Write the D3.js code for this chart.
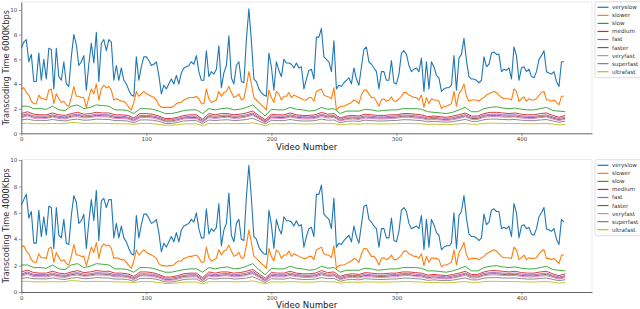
<!DOCTYPE html>
<html><head><meta charset="utf-8">
<script src="https://cdn.jsdelivr.net/npm/d3@7"></script>
<style>html,body{margin:0;padding:0;background:#fff;}svg{display:block;font-family:"DejaVu Sans",sans-serif;}</style>
</head><body><svg id="c" width="640" height="309"></svg>
<script>
const seriesNames=["veryslow","slower","slow","medium","fast","faster","veryfast","superfast","ultrafast"];
const seriesColors=["#1f77b4","#ff7f0e","#2ca02c","#d62728","#9467bd","#8c564b","#e377c2","#7f7f7f","#bcbd22"];
const xTicks=[0,100,200,300,400];
const yTicks=[0,2,4,6,8,10];
const STEP_MAIN=2, STEP_LOW=5; // video-number spacing of the samples

// ---- 6000 Kbps ----
const veryslow6000=[6.9,7.4,7.6,5.8,6.4,4.2,4.2,6.5,4.3,6.0,4.4,6.9,6.8,3.6,6.9,4.6,4.3,5.8,4.0,3.8,
6.2,8.0,7.2,5.5,5.8,6.3,3.5,5.6,7.3,5.7,8.2,4.2,7.3,7.6,6.7,7.6,7.4,4.3,5.5,4.3,
5.3,4.3,4.0,3.5,3.1,3.0,6.2,4.3,5.4,6.2,6.2,5.9,5.5,5.6,5.8,4.7,3.2,3.9,3.6,4.0,
4.4,4.0,4.7,4.0,4.9,5.3,5.4,5.5,5.8,5.6,6.3,5.0,4.3,4.3,6.7,4.6,5.0,4.8,5.2,7.1,
3.7,4.9,5.5,7.9,4.5,4.0,5.5,5.8,4.2,4.1,7.6,10.1,7.5,4.4,4.2,3.6,3.3,3.1,3.0,6.5,
5.4,3.5,5.8,5.1,4.6,6.0,5.7,5.7,5.6,5.3,5.7,5.3,5.4,3.6,4.4,5.1,5.2,4.4,7.8,7.8,
8.5,6.2,6.0,5.8,5.0,7.5,3.6,3.9,3.8,4.1,4.3,4.5,4.0,5.3,4.4,3.9,5.4,6.8,7.0,5.8,
5.6,5.3,5.0,3.6,5.0,5.0,4.3,4.3,5.9,4.1,4.0,4.8,6.5,6.7,6.4,5.5,5.0,5.2,5.3,5.0,
6.1,3.4,5.8,3.6,5.8,5.4,4.7,4.5,3.4,3.6,3.7,3.7,3.9,6.3,3.5,6.1,6.4,7.7,5.9,4.6,
4.4,4.4,4.3,4.1,4.3,6.2,5.4,5.6,6.5,6.6,6.4,6.4,5.0,5.2,5.1,5.3,4.4,7.0,6.3,4.3,
5.3,5.4,5.0,5.2,4.6,4.5,5.0,6.0,6.3,6.7,5.0,4.9,4.8,5.0,4.2,3.8,5.8,5.8];
const slower6000=[3.6,3.7,3.3,3.1,2.6,2.4,2.4,3.1,2.8,2.8,2.7,3.5,3.6,2.4,3.2,2.8,2.5,2.6,2.3,2.2,
2.9,3.8,3.0,3.0,2.9,2.9,2.1,2.9,3.6,3.2,4.0,2.7,3.6,3.9,3.7,3.8,3.5,2.7,2.8,2.7,
2.6,2.6,2.4,2.1,1.9,2.5,3.4,3.0,3.2,3.4,3.2,3.1,3.0,2.9,2.7,2.3,2.1,2.1,2.1,2.1,
2.1,2.2,2.4,2.5,2.5,2.7,2.8,2.9,2.9,2.9,3.0,2.8,2.4,2.4,3.6,2.8,2.5,2.6,2.7,3.4,
3.0,3.3,3.4,3.8,3.3,2.9,3.0,3.2,2.7,2.8,3.8,5.0,4.0,2.9,2.7,2.5,2.3,2.1,1.9,3.5,
2.9,2.5,3.4,3.2,2.7,3.0,3.0,3.3,2.9,3.1,3.0,2.9,2.8,2.7,2.7,2.9,2.9,2.6,3.4,3.5,
3.6,3.1,3.0,2.95,2.8,3.7,1.9,2.1,2.2,2.2,2.3,2.4,2.5,2.7,2.6,2.4,3.1,3.5,3.5,3.2,
2.9,2.9,2.6,2.2,2.7,2.8,2.6,2.7,2.95,2.6,2.6,2.8,3.0,3.3,3.3,3.1,3.0,2.9,2.9,2.7,
3.1,2.1,2.9,2.4,2.8,2.7,2.7,2.6,2.0,2.2,2.2,2.3,2.4,3.4,2.2,3.2,3.5,4.0,3.0,2.6,
2.7,2.7,2.7,2.6,2.8,2.9,3.1,3.2,3.3,3.4,3.3,3.1,2.9,2.8,2.8,2.8,2.7,3.6,3.4,2.6,
2.8,2.95,2.6,2.8,2.7,2.7,2.8,3.1,3.3,3.4,2.7,2.7,2.6,2.7,2.5,2.3,3.0,3.0];
const slow6000=[2.2,2.2,2.0,2.0,1.95,2.2,1.9,1.85,2.2,2.3,
2.0,2.1,2.3,2.25,2.2,1.9,1.9,1.85,1.6,2.0,
2.0,1.95,1.8,1.6,1.6,1.7,1.85,1.9,1.9,1.6,
2.0,1.9,2.0,2.05,1.9,1.95,2.1,2.3,1.85,1.4,
1.95,1.9,1.9,2.1,1.95,1.9,1.8,1.85,2.1,1.95,
2.0,1.6,1.8,1.8,1.8,1.95,1.9,1.8,1.85,1.9,
1.9,2.0,2.0,2.0,1.95,1.75,1.7,1.65,1.6,1.7,
1.9,2.1,1.75,1.75,2.0,2.1,2.15,2.05,2.0,2.05,
1.95,1.9,1.9,2.0,2.1,1.85,1.8,1.75];
const medium6000=[1.6,1.75,1.55,1.5,1.5,1.65,1.5,1.45,1.6,1.7,
1.55,1.6,1.7,1.65,1.65,1.5,1.5,1.45,1.25,1.6,
1.6,1.55,1.4,1.2,1.2,1.3,1.45,1.5,1.5,1.15,
1.6,1.5,1.6,1.6,1.5,1.55,1.65,1.8,1.45,1.1,
1.55,1.5,1.5,1.65,1.5,1.45,1.45,1.5,1.7,1.55,
1.6,1.25,1.4,1.45,1.4,1.55,1.5,1.45,1.45,1.5,
1.5,1.6,1.6,1.55,1.5,1.35,1.4,1.35,1.3,1.4,
1.5,1.65,1.4,1.4,1.6,1.7,1.7,1.65,1.6,1.65,
1.55,1.5,1.5,1.6,1.65,1.45,1.3,1.45];
const fast6000=[1.45,1.6,1.4,1.4,1.38,1.5,1.38,1.33,1.48,1.55,
1.42,1.45,1.55,1.52,1.5,1.38,1.38,1.33,1.15,1.45,
1.45,1.42,1.3,1.1,1.1,1.2,1.33,1.38,1.38,1.05,
1.45,1.38,1.45,1.48,1.38,1.42,1.5,1.65,1.33,1.0,
1.42,1.38,1.38,1.5,1.4,1.35,1.33,1.38,1.55,1.42,
1.45,1.15,1.3,1.33,1.3,1.42,1.38,1.33,1.33,1.38,
1.4,1.48,1.48,1.42,1.38,1.25,1.3,1.25,1.2,1.28,
1.38,1.52,1.3,1.3,1.48,1.55,1.55,1.5,1.48,1.5,
1.42,1.38,1.38,1.45,1.5,1.33,1.2,1.32];
const faster6000=[1.35,1.5,1.3,1.3,1.28,1.4,1.28,1.24,1.38,1.45,
1.32,1.36,1.45,1.42,1.4,1.28,1.28,1.24,1.05,1.35,
1.36,1.32,1.2,1.0,1.0,1.1,1.24,1.28,1.28,0.95,
1.35,1.28,1.35,1.38,1.28,1.32,1.4,1.55,1.24,0.92,
1.32,1.28,1.28,1.4,1.3,1.25,1.24,1.28,1.45,1.32,
1.36,1.05,1.2,1.24,1.2,1.32,1.28,1.24,1.24,1.28,
1.3,1.38,1.38,1.32,1.28,1.15,1.2,1.15,1.1,1.18,
1.28,1.42,1.2,1.2,1.38,1.45,1.45,1.4,1.38,1.4,
1.32,1.28,1.28,1.35,1.4,1.24,1.1,1.22];
const veryfast6000=[1.25,1.4,1.22,1.22,1.2,1.32,1.2,1.16,1.3,1.36,
1.24,1.28,1.36,1.34,1.32,1.2,1.2,1.16,0.98,1.27,
1.28,1.24,1.12,0.93,0.93,1.02,1.16,1.2,1.2,0.88,
1.27,1.2,1.27,1.3,1.2,1.24,1.32,1.46,1.16,0.86,
1.24,1.2,1.2,1.32,1.22,1.17,1.16,1.2,1.36,1.24,
1.28,0.98,1.12,1.16,1.12,1.24,1.2,1.16,1.16,1.2,
1.22,1.3,1.3,1.24,1.2,1.08,1.12,1.08,1.03,1.1,
1.2,1.34,1.12,1.12,1.3,1.36,1.36,1.32,1.3,1.32,
1.24,1.2,1.2,1.27,1.32,1.16,1.03,1.14];
const superfast6000=[1.08,1.15,1.05,1.05,1.04,1.12,1.04,1.0,1.1,1.15,
1.06,1.08,1.15,1.13,1.12,1.03,1.03,1.0,0.85,1.08,
1.09,1.06,0.97,0.8,0.8,0.88,1.0,1.03,1.03,0.78,
1.08,1.03,1.08,1.1,1.03,1.06,1.12,1.22,1.0,0.76,
1.06,1.03,1.03,1.12,1.04,1.0,1.0,1.03,1.15,1.06,
1.08,0.85,0.97,1.0,0.97,1.06,1.03,1.0,1.0,1.03,
1.04,1.1,1.1,1.06,1.03,0.93,0.97,0.93,0.9,0.95,
1.03,1.13,0.97,0.97,1.1,1.15,1.15,1.12,1.1,1.12,
1.06,1.03,1.03,1.08,1.12,1.0,0.9,0.98];
const ultrafast6000=[0.8,0.82,0.78,0.78,0.78,0.8,0.78,0.8,0.88,0.85,
0.8,0.8,0.82,0.8,0.8,0.78,0.77,0.77,0.72,0.8,
0.8,0.79,0.72,0.66,0.66,0.7,0.76,0.77,0.77,0.62,
0.8,0.78,0.8,0.8,0.78,0.79,0.8,0.85,0.76,0.62,
0.78,0.77,0.77,0.8,0.78,0.76,0.76,0.77,0.82,0.78,
0.79,0.68,0.74,0.76,0.74,0.78,0.77,0.76,0.76,0.77,
0.78,0.8,0.8,0.78,0.77,0.72,0.74,0.72,0.7,0.73,
0.77,0.8,0.74,0.74,0.8,0.82,0.82,0.8,0.8,0.8,
0.78,0.77,0.77,0.79,0.8,0.76,0.68,0.72];

// ---- 4000 Kbps ----
const veryslow4000=[6.6,7.0,7.4,5.6,6.1,3.7,3.7,6.2,4.2,5.7,4.3,6.5,6.4,3.3,6.4,4.3,4.1,5.5,3.7,3.6,
5.8,7.3,6.8,5.2,5.4,5.9,3.3,5.3,7.0,5.4,7.7,3.9,6.9,7.1,6.4,7.0,7.0,4.1,5.2,4.1,
5.0,4.1,3.8,3.3,2.9,2.8,5.8,4.1,5.1,5.9,5.9,5.6,5.2,5.3,5.5,4.5,3.05,3.7,3.4,3.8,
4.2,3.8,4.5,3.8,4.7,5.0,5.1,5.2,5.5,5.3,6.0,4.8,4.1,4.1,6.3,4.4,4.8,4.6,4.9,6.7,
3.5,4.7,5.2,7.5,4.3,3.8,5.2,5.5,4.0,3.9,7.2,9.6,7.1,4.2,4.0,3.4,3.1,2.9,2.85,6.2,
5.1,3.3,5.5,4.8,4.4,5.7,5.4,5.4,5.3,5.0,5.4,5.0,5.1,3.4,4.2,4.8,4.9,4.2,7.4,7.4,
8.1,5.9,5.7,5.5,4.8,7.1,3.4,3.7,3.6,3.9,4.1,4.3,3.8,5.0,4.2,3.7,5.1,6.5,6.6,5.5,
5.3,5.0,4.8,3.4,4.8,4.8,4.1,4.1,5.6,3.9,3.8,4.6,6.2,6.4,6.1,5.2,4.8,4.9,5.0,4.8,
5.8,3.2,5.5,3.4,5.5,5.1,4.5,4.3,3.2,3.4,3.5,3.5,3.7,6.0,3.3,5.8,6.1,7.3,5.6,4.4,
4.2,4.2,4.1,3.9,4.1,5.9,5.1,5.3,6.2,6.3,6.1,6.1,4.8,4.9,4.8,5.0,4.2,6.7,6.0,4.1,
5.0,5.1,4.8,4.9,4.4,4.3,4.8,5.7,6.0,6.4,4.8,4.7,4.6,4.8,4.0,3.6,5.5,5.3];
const slower4000=[3.4,3.5,3.1,2.9,2.45,2.25,2.25,2.9,2.6,2.6,2.55,3.3,3.4,2.25,3.0,2.6,2.35,2.45,2.15,2.05,
2.7,3.6,2.8,2.8,2.7,2.7,2.0,2.7,3.4,3.0,3.75,2.55,3.4,3.65,3.5,3.55,3.3,2.55,2.6,2.55,
2.45,2.45,2.25,2.0,1.8,2.35,3.2,2.8,3.0,3.2,3.0,2.9,2.8,2.7,2.55,2.15,2.0,2.0,1.95,2.0,
2.0,2.05,2.25,2.35,2.35,2.55,2.6,2.7,2.7,2.75,2.8,2.6,2.25,2.25,3.4,2.6,2.35,2.45,2.55,3.2,
2.8,3.1,3.2,3.55,3.1,2.7,2.8,3.0,2.55,2.6,3.55,4.7,3.75,2.7,2.55,2.35,2.15,2.0,1.8,3.3,
2.7,2.35,3.2,3.0,2.55,2.8,2.8,3.1,2.7,2.9,2.8,2.7,2.6,2.55,2.55,2.7,2.7,2.45,3.2,3.3,
3.4,2.9,2.8,2.8,2.6,3.5,1.8,2.0,2.05,2.05,2.15,2.25,2.35,2.55,2.45,2.25,2.9,3.3,3.3,3.0,
2.7,2.7,2.45,2.05,2.55,2.6,2.45,2.55,2.8,2.45,2.45,2.6,2.8,3.1,3.1,2.9,2.8,2.7,2.7,2.55,
2.9,2.0,2.7,2.25,2.6,2.55,2.55,2.45,1.9,2.05,2.05,2.15,2.25,3.2,2.05,3.0,3.3,3.75,2.8,2.45,
2.55,2.55,2.55,2.45,2.6,2.7,2.9,3.0,3.1,3.2,3.1,2.9,2.7,2.6,2.6,2.6,2.55,3.4,3.2,2.45,
2.6,2.8,2.45,2.6,2.55,2.55,2.6,2.9,3.1,3.2,2.55,2.55,2.45,2.55,2.35,2.15,2.8,2.8];
const slow4000=[2.05,2.05,1.85,1.85,1.8,2.05,1.75,1.7,2.05,2.15,
1.85,1.95,2.15,2.1,2.05,1.75,1.75,1.7,1.5,1.85,
1.85,1.8,1.65,1.5,1.5,1.6,1.7,1.75,1.75,1.5,
1.85,1.75,1.85,1.9,1.75,1.8,1.95,2.15,1.7,1.3,
1.8,1.75,1.75,1.95,1.8,1.75,1.65,1.7,1.95,1.8,
1.85,1.5,1.65,1.65,1.65,1.8,1.75,1.65,1.7,1.75,
1.75,1.85,1.85,1.85,1.8,1.6,1.6,1.55,1.5,1.6,
1.75,1.95,1.6,1.6,1.85,1.95,2.0,1.9,1.85,1.9,
1.8,1.75,1.75,1.85,1.95,1.7,1.65,1.6];
const medium4000=[1.52,1.66,1.47,1.43,1.43,1.57,1.43,1.38,1.52,1.62,
1.47,1.52,1.62,1.57,1.57,1.43,1.43,1.38,1.19,1.52,
1.52,1.47,1.33,1.14,1.14,1.24,1.38,1.43,1.43,1.09,
1.52,1.43,1.52,1.52,1.43,1.47,1.57,1.71,1.38,1.05,
1.47,1.43,1.43,1.57,1.43,1.38,1.38,1.43,1.62,1.47,
1.52,1.19,1.33,1.38,1.33,1.47,1.43,1.38,1.38,1.43,
1.43,1.52,1.52,1.47,1.43,1.28,1.33,1.28,1.24,1.33,
1.43,1.57,1.33,1.33,1.52,1.62,1.62,1.57,1.52,1.57,
1.47,1.43,1.43,1.52,1.57,1.38,1.24,1.38];
const fast4000=[1.38,1.52,1.33,1.33,1.31,1.43,1.31,1.26,1.41,1.47,
1.35,1.38,1.47,1.44,1.43,1.31,1.31,1.26,1.09,1.38,
1.38,1.35,1.24,1.05,1.05,1.14,1.26,1.31,1.31,1.0,
1.38,1.31,1.38,1.41,1.31,1.35,1.43,1.57,1.26,0.95,
1.35,1.31,1.31,1.43,1.33,1.28,1.26,1.31,1.47,1.35,
1.38,1.09,1.24,1.26,1.24,1.35,1.31,1.26,1.26,1.31,
1.33,1.41,1.41,1.35,1.31,1.19,1.24,1.19,1.14,1.22,
1.31,1.44,1.24,1.24,1.41,1.47,1.47,1.43,1.41,1.43,
1.35,1.31,1.31,1.38,1.43,1.26,1.14,1.25];
const faster4000=[1.28,1.43,1.24,1.24,1.22,1.33,1.22,1.18,1.31,1.38,
1.25,1.29,1.38,1.35,1.33,1.22,1.22,1.18,1.0,1.28,
1.29,1.25,1.14,0.95,0.95,1.05,1.18,1.22,1.22,0.9,
1.28,1.22,1.28,1.31,1.22,1.25,1.33,1.47,1.18,0.87,
1.25,1.22,1.22,1.33,1.24,1.19,1.18,1.22,1.38,1.25,
1.29,1.0,1.14,1.18,1.14,1.25,1.22,1.18,1.18,1.22,
1.24,1.31,1.31,1.25,1.22,1.09,1.14,1.09,1.05,1.12,
1.22,1.35,1.14,1.14,1.31,1.38,1.38,1.33,1.31,1.33,
1.25,1.22,1.22,1.28,1.33,1.18,1.05,1.16];
const veryfast4000=[1.19,1.33,1.16,1.16,1.14,1.25,1.14,1.1,1.24,1.29,
1.18,1.22,1.29,1.27,1.25,1.14,1.14,1.1,0.93,1.21,
1.22,1.18,1.06,0.88,0.88,0.97,1.1,1.14,1.14,0.84,
1.21,1.14,1.21,1.24,1.14,1.18,1.25,1.39,1.1,0.82,
1.18,1.14,1.14,1.25,1.16,1.11,1.1,1.14,1.29,1.18,
1.22,0.93,1.06,1.1,1.06,1.18,1.14,1.1,1.1,1.14,
1.16,1.24,1.24,1.18,1.14,1.03,1.06,1.03,0.98,1.05,
1.14,1.27,1.06,1.06,1.24,1.29,1.29,1.25,1.24,1.25,
1.18,1.14,1.14,1.21,1.25,1.1,0.98,1.08];
const superfast4000=[1.03,1.09,1.0,1.0,0.99,1.06,0.99,0.95,1.05,1.09,
1.01,1.03,1.09,1.07,1.06,0.98,0.98,0.95,0.81,1.03,
1.04,1.01,0.92,0.76,0.76,0.84,0.95,0.98,0.98,0.74,
1.03,0.98,1.03,1.05,0.98,1.01,1.06,1.16,0.95,0.72,
1.01,0.98,0.98,1.06,0.99,0.95,0.95,0.98,1.09,1.01,
1.03,0.81,0.92,0.95,0.92,1.01,0.98,0.95,0.95,0.98,
0.99,1.05,1.05,1.01,0.98,0.88,0.92,0.88,0.86,0.9,
0.98,1.07,0.92,0.92,1.05,1.09,1.09,1.06,1.05,1.06,
1.01,0.98,0.98,1.03,1.06,0.95,0.86,0.93];
const ultrafast4000=[0.8,0.81,0.77,0.77,0.77,0.79,0.77,0.79,0.86,0.84,
0.79,0.79,0.81,0.79,0.79,0.77,0.76,0.76,0.71,0.79,
0.79,0.78,0.71,0.65,0.65,0.69,0.75,0.76,0.76,0.61,
0.79,0.77,0.79,0.79,0.77,0.78,0.79,0.84,0.75,0.61,
0.77,0.76,0.76,0.79,0.77,0.75,0.75,0.76,0.81,0.77,
0.78,0.67,0.73,0.75,0.73,0.77,0.76,0.75,0.75,0.76,
0.77,0.79,0.79,0.77,0.76,0.71,0.73,0.71,0.69,0.72,
0.76,0.79,0.73,0.73,0.79,0.81,0.81,0.79,0.79,0.79,
0.77,0.76,0.76,0.78,0.79,0.75,0.67,0.71];

const panels=[
  {label:"Transcoding Time 6000Kbps",
   data:[veryslow6000,slower6000,slow6000,medium6000,fast6000,faster6000,veryfast6000,superfast6000,ultrafast6000],
   steps:[STEP_MAIN,STEP_MAIN,STEP_LOW,STEP_LOW,STEP_LOW,STEP_LOW,STEP_LOW,STEP_LOW,STEP_LOW],
   top:2,bottom:133.3,ymax:10.65,legendTop:1.7,xlabY:150},
  {label:"Transcoding Time 4000Kbps",
   data:[veryslow4000,slower4000,slow4000,medium4000,fast4000,faster4000,veryfast4000,superfast4000,ultrafast4000],
   steps:[STEP_MAIN,STEP_MAIN,STEP_LOW,STEP_LOW,STEP_LOW,STEP_LOW,STEP_LOW,STEP_LOW,STEP_LOW],
   top:159.5,bottom:292,ymax:10.04,legendTop:159.7,xlabY:308}
];

const svg=d3.select("#c");
const L=21.3,R=592;
const x=d3.scaleLinear().domain([0,456.4]).range([L,R]);

panels.forEach(p=>{
  const y=d3.scaleLinear().domain([0,p.ymax]).range([p.bottom,p.top]);
  const g=svg.append("g");
  // frame (light top/right)
  g.append("line").attr("x1",L).attr("x2",R).attr("y1",p.top).attr("y2",p.top).attr("stroke","#e6e6e6").attr("stroke-width",0.8);
  g.append("line").attr("x1",R).attr("x2",R).attr("y1",p.top).attr("y2",p.bottom).attr("stroke","#e6e6e6").attr("stroke-width",0.8);
  // lines
  const clip="clip"+p.top;
  svg.append("clipPath").attr("id",clip).append("rect").attr("x",L).attr("y",p.top).attr("width",R-L).attr("height",p.bottom-p.top);
  const lg=g.append("g").attr("clip-path","url(#"+clip+")");
  p.data.forEach((arr,k)=>{
    const step=p.steps[k];
    const line=d3.line().x((d,i)=>x(i*step)).y(d=>y(d));
    lg.append("path").attr("d",line(arr)).attr("fill","none")
      .attr("stroke",seriesColors[k]).attr("stroke-width",k<2?1.1:0.9).attr("stroke-linejoin","round");
  });
  // axes
  const xa=g.append("g").attr("transform",`translate(0,${p.bottom})`)
    .call(d3.axisBottom(x).tickValues(xTicks).tickSize(2.5).tickPadding(1.5).tickSizeOuter(0));
  const ya=g.append("g").attr("transform",`translate(${L},0)`)
    .call(d3.axisLeft(y).tickValues(yTicks).tickSize(2.5).tickPadding(1.5).tickSizeOuter(0));
  [xa,ya].forEach(a=>{
    a.select(".domain").attr("stroke","#555").attr("stroke-width",0.9);
    a.selectAll(".tick line").attr("stroke","#555").attr("stroke-width",0.6);
    a.selectAll(".tick text").attr("fill","#444").style("font-size","5.5px").style("font-family","DejaVu Sans");
  });
  // axis labels
  g.append("text").attr("transform",`translate(8.5,${(p.top+p.bottom)/2}) rotate(-90)`)
    .attr("text-anchor","middle").attr("fill","#333").style("font-size","8.2px").text(p.label);
  g.append("text").attr("x",(L+R)/2).attr("y",p.xlabY).attr("text-anchor","middle")
    .attr("fill","#222").style("font-size","8.6px").text("Video Number");
  // legend
  const lgd=g.append("g");
  lgd.append("rect").attr("x",595).attr("y",p.legendTop).attr("width",60).attr("height",76)
    .attr("fill","#fff").attr("stroke","#d0d0d0").attr("stroke-width",0.7).attr("rx",1.5);
  seriesNames.forEach((n,k)=>{
    const yy=p.legendTop+5.6+k*8.05;
    lgd.append("line").attr("x1",597.5).attr("x2",608.5).attr("y1",yy).attr("y2",yy)
      .attr("stroke",seriesColors[k]).attr("stroke-width",1.2);
    lgd.append("text").attr("x",612).attr("y",yy).attr("dy","0.35em").attr("fill","#333")
      .style("font-size","5.6px").text(n);
  });
});
</script></body></html>
